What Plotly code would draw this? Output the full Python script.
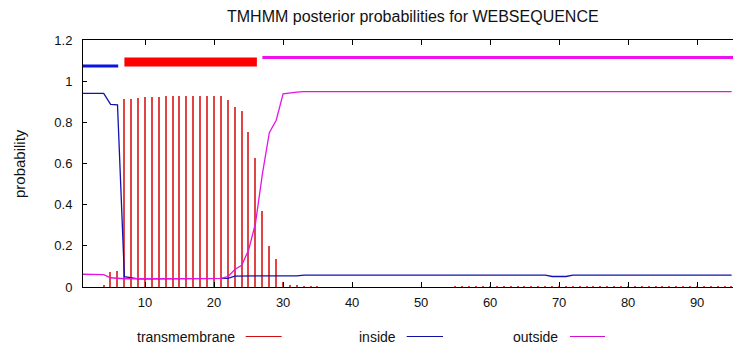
import plotly.graph_objects as go

# ---------------- data ----------------
positions = list(range(1, 96))

transmembrane = [
    0.0, 0.0, 0.0, 0.006, 0.075, 0.078, 0.913, 0.915, 0.92, 0.922,
    0.923, 0.925, 0.927, 0.928, 0.928, 0.928, 0.928, 0.928, 0.928, 0.928,
    0.927, 0.909, 0.876, 0.856, 0.754, 0.629, 0.37, 0.2, 0.137, 0.022,
    0.01, 0.005, 0.004, 0.004, 0.004, 0.0, 0.0, 0.0, 0.0, 0.0,
    0.0, 0.0, 0.0, 0.0, 0.0, 0.0, 0.0, 0.0, 0.0, 0.0,
    0.0, 0.0, 0.0, 0.0, 0.004, 0.004, 0.004, 0.004, 0.004, 0.004,
    0.004, 0.004, 0.004, 0.004, 0.004, 0.004, 0.004, 0.004, 0.004, 0.004,
    0.004, 0.004, 0.004, 0.004, 0.004, 0.004, 0.004, 0.004, 0.004, 0.004,
    0.004, 0.004, 0.004, 0.004, 0.004, 0.004, 0.004, 0.004, 0.004, 0.004,
    0.004, 0.004, 0.004, 0.004, 0.004,
]

inside = (
    [0.941, 0.941, 0.941, 0.941, 0.887, 0.885, 0.05, 0.045, 0.04, 0.04]
    + [0.04] * 11                      # 11-21
    + [0.042, 0.053]                   # 22-23
    + [0.054] * 9                      # 24-32
    + [0.058] * 36                     # 33-68
    + [0.051, 0.051, 0.051]            # 69-71
    + [0.058] * 24                     # 72-95
)

outside = (
    [0.062, 0.062, 0.062, 0.06, 0.045, 0.042, 0.04, 0.04, 0.04, 0.04]
    + [0.04] * 10                      # 11-20
    + [0.042, 0.05, 0.085, 0.105, 0.18, 0.31, 0.55, 0.75, 0.81, 0.938,
       0.944, 0.947]                   # 21-32
    + [0.949] * 63                     # 33-95
)

# predicted topology bands drawn above the curves
band_names = ["inside", "transmembrane", "outside"]
band_start = [1, 7, 27]
band_end = [6.1, 26.2, 96]
band_level = [1.074, 1.093, 1.115]

x_ticks = [10, 20, 30, 40, 50, 60, 70, 80, 90]
y_ticks = [0, 0.2, 0.4, 0.6, 0.8, 1, 1.2]
y_tick_text = ["0", "0.2", "0.4", "0.6", "0.8", "1", "1.2"]

title_text = "TMHMM posterior probabilities for WEBSEQUENCE"
y_title = "probability"

# ---------------- styles ----------------
FONT = "Liberation Sans, Arial, Helvetica, sans-serif"
band_colors = {"inside": "#0a14e6", "transmembrane": "#ff0000", "outside": "#ee10ee"}
band_widths = {"inside": 3, "transmembrane": 9, "outside": 3}
legend_colors = {"transmembrane": "#d01010", "inside": "#1010a0", "outside": "#d010d0"}

W, H = 733, 347
L, R, T, B = 83, 0, 40, 60
PW, PH = W - L - R, H - T - B


def px_x(px):
    return (px - L) / PW


def px_y(py):
    return (H - B - py) / PH


fig = go.Figure()

# transmembrane impulses
fig.add_trace(go.Bar(
    x=positions, y=transmembrane, width=0.2,
    marker=dict(color="#e04444", line=dict(width=0)),
    showlegend=False, hoverinfo="x+y",
))

# inside / outside curves
fig.add_trace(go.Scatter(
    x=positions, y=inside, mode="lines",
    line=dict(color="#1212b0", width=1.3), showlegend=False,
))
fig.add_trace(go.Scatter(
    x=positions, y=outside, mode="lines",
    line=dict(color="#e414e4", width=1.3), showlegend=False,
))

# topology bands
for name, s, e, lv in zip(band_names, band_start, band_end, band_level):
    fig.add_trace(go.Scatter(
        x=[s, e], y=[lv, lv], mode="lines",
        line=dict(color=band_colors[name], width=band_widths[name]),
        showlegend=False,
    ))

# gnuplot-style legend (text then line sample) below the plot
legend_items = [
    ("transmembrane", 237, 245.7, 281.7),
    ("inside", 398, 406.7, 443),
    ("outside", 560, 570, 605),
]
ly = px_y(336.5)
annotations = []
shapes = []
for name, text_right, l0, l1 in legend_items:
    annotations.append(dict(
        text=name, xref="paper", yref="paper", x=px_x(text_right), y=ly,
        xanchor="right", yanchor="middle", showarrow=False,
        font=dict(family=FONT, size=14, color="#111111"),
    ))
    shapes.append(dict(
        type="line", xref="paper", yref="paper",
        x0=px_x(l0), x1=px_x(l1), y0=ly, y1=ly,
        line=dict(color=legend_colors[name], width=1),
    ))

# title and y-axis title
annotations.append(dict(
    text=title_text, xref="paper", yref="paper", x=px_x(413), y=px_y(17),
    xanchor="center", yanchor="middle", showarrow=False,
    font=dict(family=FONT, size=16, color="#111111"),
))
annotations.append(dict(
    text=y_title, xref="paper", yref="paper", x=px_x(19.5), y=px_y(163.5),
    xanchor="center", yanchor="middle", showarrow=False, textangle=-90,
    font=dict(family=FONT, size=15, color="#111111"),
))

fig.update_layout(
    width=W, height=H,
    margin=dict(l=L, r=R, t=T, b=B, pad=0),
    paper_bgcolor="white", plot_bgcolor="white",
    bargap=0, showlegend=False,
    annotations=annotations, shapes=shapes,
    font=dict(family=FONT, size=13, color="#111111"),
)
fig.update_xaxes(
    range=[1, 95.2], tickvals=x_ticks, ticks="inside", ticklen=5,
    tickcolor="black", showline=True, linecolor="black", linewidth=1,
    mirror="ticks", showgrid=False, zeroline=False, ticklabelstandoff=3,
    tickfont=dict(family=FONT, size=13, color="#111111"),
)
fig.update_yaxes(
    range=[0, 1.2], tickvals=y_ticks, ticktext=y_tick_text, ticks="inside",
    ticklen=4, tickcolor="black", showline=True, linecolor="black",
    linewidth=1, mirror=False, showgrid=False, zeroline=False,
    ticklabelstandoff=7,
    tickfont=dict(family=FONT, size=13, color="#111111"),
)

fig.write_html("out.html")
